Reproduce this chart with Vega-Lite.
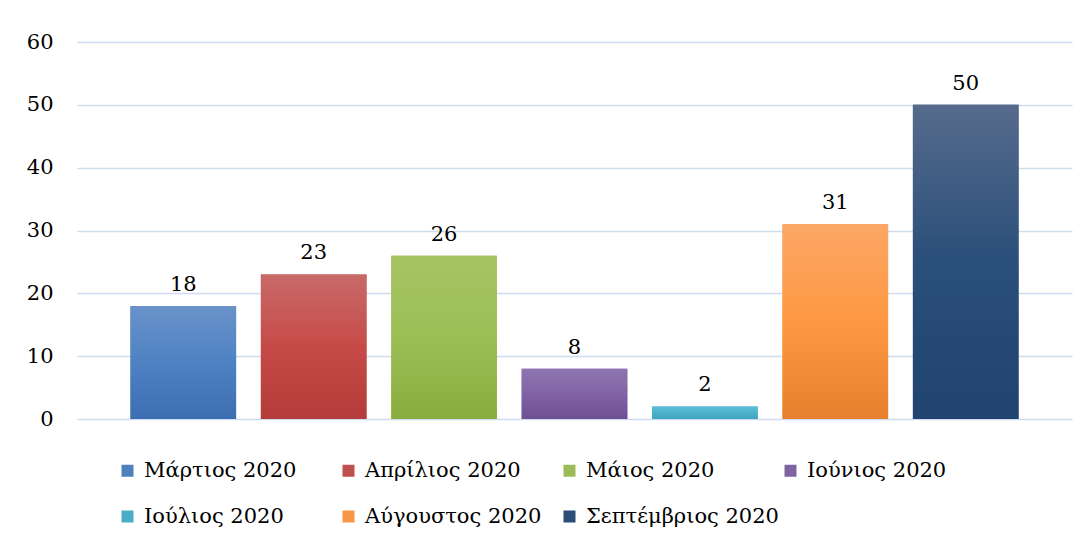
{
  "$schema": "https://vega.github.io/schema/vega-lite/v6.json",
  "width": 995,
  "height": 377,
  "autosize": {"type": "none"},
  "padding": {"left": 77, "top": 42, "right": 16, "bottom": 123},
  "background": "white",
  "config": {
    "font": "DejaVu Serif",
    "view": {"stroke": null}
  },
  "data": {
    "values": [
      {"month": "Μάρτιος 2020", "value": 18},
      {"month": "Απρίλιος 2020", "value": 23},
      {"month": "Μάιος 2020", "value": 26},
      {"month": "Ιούνιος 2020", "value": 8},
      {"month": "Ιούλιος 2020", "value": 2},
      {"month": "Αύγουστος 2020", "value": 31},
      {"month": "Σεπτέμβριος 2020", "value": 50}
    ]
  },
  "encoding": {
    "x": {
      "field": "month",
      "type": "nominal",
      "sort": null,
      "scale": {"paddingInner": 0.19, "paddingOuter": 0.41},
      "axis": null
    },
    "y": {
      "field": "value",
      "type": "quantitative",
      "scale": {"domain": [0, 60]},
      "axis": {
        "values": [0, 10, 20, 30, 40, 50, 60],
        "title": null,
        "ticks": false,
        "domain": false,
        "labelFont": "DejaVu Serif",
        "labelFontSize": 21,
        "labelColor": "#000000",
        "labelPadding": 24,
        "gridColor": "#CFDCF0",
        "gridWidth": 1.5
      }
    }
  },
  "layer": [
    {
      "mark": {"type": "bar"},
      "encoding": {
        "color": {
          "field": "month",
          "type": "nominal",
          "scale": {
            "domain": ["Μάρτιος 2020", "Απρίλιος 2020", "Μάιος 2020", "Ιούνιος 2020", "Ιούλιος 2020", "Αύγουστος 2020", "Σεπτέμβριος 2020"],
            "range": ["#4F81BD", "#C0504D", "#9BBB59", "#8064A2", "#4BACC6", "#F79646", "#2C4D75"]
          },
          "legend": {
            "title": null,
            "orient": "none",
            "legendX": 40,
            "legendY": 418,
            "direction": "horizontal",
            "columns": 4,
            "gridAlign": "all",
            "columnPadding": 1,
            "rowPadding": 24,
            "symbolType": "square",
            "symbolSize": 144,
            "symbolStrokeWidth": 0,
            "symbolOffset": 0,
            "labelOffset": 6,
            "labelFont": "DejaVu Serif",
            "labelFontSize": 21,
            "labelColor": "#000000",
            "labelLimit": 300
          }
        }
      }
    },
    {
      "mark": {"type": "bar"},
      "encoding": {
        "fill": {
          "condition": [
            {"test": "datum.month === 'Μάρτιος 2020'", "value": {"gradient": "linear", "x1": 0, "y1": 0, "x2": 0, "y2": 1, "stops": [{"offset": 0, "color": "#6A92C9"}, {"offset": 0.5, "color": "#4E82C3"}, {"offset": 1, "color": "#3C6EB2"}]}},
            {"test": "datum.month === 'Απρίλιος 2020'", "value": {"gradient": "linear", "x1": 0, "y1": 0, "x2": 0, "y2": 1, "stops": [{"offset": 0, "color": "#C76A68"}, {"offset": 0.5, "color": "#C64B48"}, {"offset": 1, "color": "#B43B39"}]}},
            {"test": "datum.month === 'Μάιος 2020'", "value": {"gradient": "linear", "x1": 0, "y1": 0, "x2": 0, "y2": 1, "stops": [{"offset": 0, "color": "#A6C464"}, {"offset": 0.5, "color": "#9CBE55"}, {"offset": 1, "color": "#89AD3E"}]}},
            {"test": "datum.month === 'Ιούνιος 2020'", "value": {"gradient": "linear", "x1": 0, "y1": 0, "x2": 0, "y2": 1, "stops": [{"offset": 0, "color": "#8F75B1"}, {"offset": 0.5, "color": "#8163A5"}, {"offset": 1, "color": "#6E4F91"}]}},
            {"test": "datum.month === 'Ιούλιος 2020'", "value": {"gradient": "linear", "x1": 0, "y1": 0, "x2": 0, "y2": 1, "stops": [{"offset": 0, "color": "#5CC0D6"}, {"offset": 1, "color": "#3BA4BE"}]}},
            {"test": "datum.month === 'Αύγουστος 2020'", "value": {"gradient": "linear", "x1": 0, "y1": 0, "x2": 0, "y2": 1, "stops": [{"offset": 0, "color": "#FCA766"}, {"offset": 0.5, "color": "#FD9842"}, {"offset": 1, "color": "#E5812E"}]}}
          ],
          "value": {"gradient": "linear", "x1": 0, "y1": 0, "x2": 0, "y2": 1, "stops": [{"offset": 0, "color": "#566B8C"}, {"offset": 0.5, "color": "#2A4F7A"}, {"offset": 1, "color": "#20436F"}]}
        }
      }
    },
    {
      "mark": {"type": "text", "baseline": "bottom", "dy": -11, "font": "DejaVu Serif", "fontSize": 21, "color": "#000000"},
      "encoding": {
        "text": {"field": "value", "type": "quantitative"}
      }
    }
  ]
}
